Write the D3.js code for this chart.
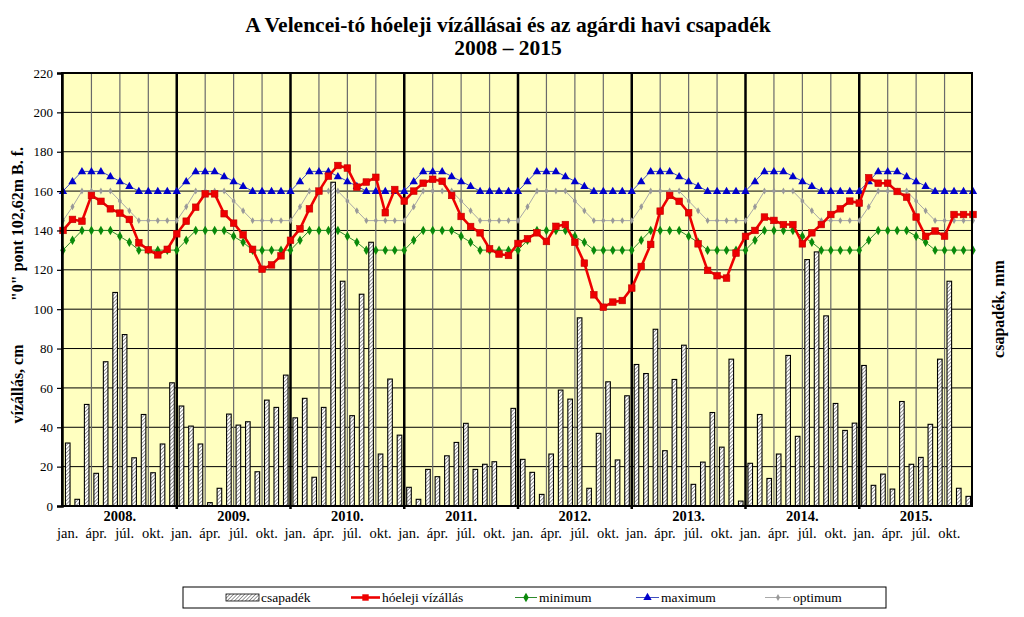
<!DOCTYPE html>
<html><head><meta charset="utf-8">
<script src="https://cdn.jsdelivr.net/npm/d3@7"></script>
<style>body{margin:0;background:#fff}svg{display:block}text{font-family:"Liberation Serif","Times New Roman",serif}</style>
</head><body><svg id="c" width="1024" height="617"></svg>
<script>
const years = ["2008.","2009.","2010.","2011.","2012.","2013.","2014.","2015."];
const monthLabels = ["jan.","ápr.","júl.","okt."];
const yTicks = [0,20,40,60,80,100,120,140,160,180,200,220];
// monthly precipitation, mm (Jan 2008 – Dec 2015)
const csapadek = [
 32,3.4,51.6,16.6,73.3,108.5,87.1,24.5,46.5,16.9,31.5,62.6,
 50.8,40.6,31.5,1.7,9,46.7,41.1,42.8,17.4,53.8,50.1,66.5,
 44.8,54.7,14.6,50.1,164.5,114.2,45.9,107.6,134,26.4,64.5,36,
 9.5,3.4,18.6,14.9,25.5,32.3,42,18.6,21.2,22.5,0,49.6,
 23.7,17.1,5.9,26.4,58.9,54.3,95.6,9,36.9,63.1,23.4,56,
 71.9,67.3,89.8,28.1,64.3,81.7,11,22.3,47.5,29.9,74.6,2.5,
 21.7,46.5,14,26.4,76.5,35.4,125.2,129.1,96.6,52.1,38.4,42.1,
 71.4,10.5,16.2,8.6,53.1,21.2,24.7,41.5,74.6,114.2,9,4.9];
// beginning-of-month water level, cm (Jan 2008 – Jan 2016)
const vizallas = [
 140,145.6,144.7,157.8,154.8,151,148.8,145.6,133.7,130.2,127.6,130.4,
 138.3,144.7,151.8,158.6,158.6,148.5,143.7,137.8,130.4,120.3,122.5,127.1,
 135,140.8,151,160,167.6,173,171.7,162,164.6,167,149,160.8,
 154.9,160,164,166,165,157.8,147.1,142,138.8,130.7,128,127.3,
 133.4,135.8,138.8,134.4,142.1,143,134,123.4,107.3,101,103.6,104.4,
 110.7,121.7,132.9,149.8,157.8,154.8,149,133.2,119.7,117,115.8,128.5,
 137,140,146.8,145.1,143,143,133.2,138.8,143,148.1,151,154.9,
 153.9,166.8,164,164,159.8,156.9,146.8,137,139.7,137.1,148.1,148.1,
 148.1];
const minimum = [
 130,135,140,140,140,140,137,134,130,130,130,130,
 130,135,140,140,140,140,137,134,130,130,130,130,
 130,135,140,140,140,140,137,134,130,130,130,130,
 130,135,140,140,140,140,137,134,130,130,130,130,
 130,135,140,140,140,140,137,134,130,130,130,130,
 130,135,140,140,140,140,137,134,130,130,130,130,
 130,135,140,140,140,140,137,134,130,130,130,130,
 130,135,140,140,140,140,137,134,130,130,130,130,
 130];
const maximum = [
 160,165,170,170,170,167.5,165,162.5,160,160,160,160,
 160,165,170,170,170,167.5,165,162.5,160,160,160,160,
 160,165,170,170,170,167.5,165,162.5,160,160,160,160,
 160,165,170,170,170,167.5,165,162.5,160,160,160,160,
 160,165,170,170,170,167.5,165,162.5,160,160,160,160,
 160,165,170,170,170,167.5,165,162.5,160,160,160,160,
 160,165,170,170,170,167.5,165,162.5,160,160,160,160,
 160,165,170,170,170,167.5,165,162.5,160,160,160,160,
 160];
const optimum = [
 145,152,160,160,160,160,155,150,145,145,145,145,
 145,152,160,160,160,160,155,150,145,145,145,145,
 145,152,160,160,160,160,155,150,145,145,145,145,
 145,152,160,160,160,160,155,150,145,145,145,145,
 145,152,160,160,160,160,155,150,145,145,145,145,
 145,152,160,160,160,160,155,150,145,145,145,145,
 145,152,160,160,160,160,155,150,145,145,145,145,
 145,152,160,160,160,160,155,150,145,145,145,145,
 145];

const svg = d3.select("#c");
const L=62, R=972, T=73, B=506;
const nM = csapadek.length;
const x = d3.scaleLinear().domain([0,nM]).range([L,R]);
const y = d3.scaleLinear().domain([0,220]).range([B,T]);

const defs = svg.append("defs");
const pat = defs.append("pattern").attr("id","hatch").attr("patternUnits","userSpaceOnUse")
  .attr("width",2.6).attr("height",2.6).attr("patternTransform","rotate(45)");
pat.append("rect").attr("width",2.6).attr("height",2.6).attr("fill","#fff");
pat.append("line").attr("x1",0).attr("y1",0).attr("x2",0).attr("y2",2.6).attr("stroke","#555").attr("stroke-width",1.2);

svg.append("rect").attr("width",1024).attr("height",617).attr("fill","#fff");

// title
svg.append("text").attr("x",508).attr("y",32).attr("text-anchor","middle")
  .attr("font-size",21.5).attr("font-weight","bold").text("A Velencei-tó hóeleji vízállásai és az agárdi havi csapadék");
svg.append("text").attr("x",508).attr("y",55).attr("text-anchor","middle")
  .attr("font-size",21.5).attr("font-weight","bold").text("2008 – 2015");

// plot background
svg.append("rect").attr("x",L).attr("y",T).attr("width",R-L).attr("height",B-T).attr("fill","#FFFFC0");

// horizontal grid
svg.append("g").selectAll("line").data(yTicks).join("line")
  .attr("x1",L).attr("x2",R).attr("y1",d=>y(d)).attr("y2",d=>y(d))
  .attr("stroke","#000").attr("stroke-width",1);
// vertical quarter grid
const quarters = d3.range(3,nM,3).filter(i=>i%12!==0);
svg.append("g").selectAll("line").data(quarters).join("line")
  .attr("x1",d=>x(d)+1).attr("x2",d=>x(d)+1).attr("y1",T).attr("y2",B)
  .attr("stroke","#6a6a6a").attr("stroke-width",1.2);
// year separators
const yearIdx = d3.range(12,nM,12);
svg.append("g").selectAll("line").data(yearIdx).join("line")
  .attr("x1",d=>x(d)+1).attr("x2",d=>x(d)+1).attr("y1",T).attr("y2",B+3)
  .attr("stroke","#000").attr("stroke-width",2.5);

// series lines
function series(data, color, width){
  const line = d3.line().x((d,i)=>x(i)+1).y(d=>y(d));
  svg.append("path").datum(data).attr("d",line).attr("fill","none")
    .attr("stroke",color).attr("stroke-width",width).attr("stroke-linejoin","round");
}
series(optimum,"#a8a8a8",1);
series(minimum,"#2e8b2e",1);
series(maximum,"#4050c0",1);
// markers
svg.append("g").selectAll("path").data(optimum).join("path")
  .attr("d",d3.symbol(d3.symbolDiamond,14)())
  .attr("transform",(d,i)=>`translate(${x(i)+1},${y(d)})`).attr("fill","#999");
svg.append("g").selectAll("path").data(minimum).join("path")
  .attr("d",d3.symbol(d3.symbolDiamond,26)())
  .attr("transform",(d,i)=>`translate(${x(i)+1},${y(d)})`).attr("fill","#0a8a0a");
svg.append("g").selectAll("path").data(maximum).join("path")
  .attr("d",d3.symbol(d3.symbolTriangle,30)())
  .attr("transform",(d,i)=>`translate(${x(i)+1},${y(d)+0.5})`).attr("fill","#0000cc");

// bars
svg.append("g").selectAll("rect").data(csapadek).join("rect")
  .attr("x",(d,i)=>x(i+0.5)+1-2.3).attr("width",4.6)
  .attr("y",d=>y(d)).attr("height",d=>B-y(d))
  .attr("fill","url(#hatch)").attr("stroke","#000").attr("stroke-width",1.1)
  .style("display",d=>d>0?null:"none");

// water level
series(vizallas,"#ee0000",2.6);
svg.append("g").selectAll("rect").data(vizallas).join("rect")
  .attr("x",(d,i)=>x(i)+1-3.3).attr("y",d=>y(d)-3.3).attr("width",6.6).attr("height",6.6)
  .attr("fill","#ee0000").attr("stroke","#c00000").attr("stroke-width",0.6);

// frame
svg.append("rect").attr("x",L).attr("y",T).attr("width",R-L).attr("height",B-T)
  .attr("fill","none").attr("stroke","#000").attr("stroke-width",2);

// y axis
const yAxis = d3.axisLeft(y).tickValues(yTicks).tickSize(5).tickPadding(4);
const ga = svg.append("g").attr("transform",`translate(${L},0)`).call(yAxis);
ga.select(".domain").attr("stroke-width",2.5);
ga.selectAll("text").attr("font-size",13).attr("font-family","Liberation Serif").attr("fill","#000");
ga.selectAll(".tick line").attr("stroke","#000").attr("stroke-width",1.2);

// x labels
const monthPos = [];
years.forEach((yr,k)=>[0,3,6,9].forEach((m,j)=>monthPos.push({i:k*12+m,t:monthLabels[j]})));
svg.append("g").selectAll("text").data(monthPos).join("text")
  .attr("x",d=>x(d.i+0.5)+1).attr("y",538).attr("text-anchor","middle")
  .attr("font-size",14.5).text(d=>d.t);
svg.append("g").selectAll("text").data(years).join("text")
  .attr("x",(d,k)=>x(k*12+6)+1).attr("y",521).attr("text-anchor","middle")
  .attr("font-size",14.5).attr("font-weight","bold").text(d=>d);

// axis titles
svg.append("text").attr("transform","translate(23,384) rotate(-90)").attr("text-anchor","middle")
  .attr("font-size",16).attr("font-weight","bold").text("vízállás, cm");
svg.append("text").attr("transform","translate(23,224) rotate(-90)").attr("text-anchor","middle")
  .attr("font-size",16).attr("font-weight","bold").text("\"0\" pont 102,62m B. f.");
svg.append("text").attr("transform","translate(1004,309) rotate(-90)").attr("text-anchor","middle")
  .attr("font-size",16).attr("font-weight","bold").text("csapadék, mm");

// legend
const lg = svg.append("g");
lg.append("rect").attr("x",183).attr("y",587).attr("width",703).attr("height",21)
  .attr("fill","#fff").attr("stroke","#000").attr("stroke-width",1);
lg.append("rect").attr("x",226).attr("y",594).attr("width",33).attr("height",7)
  .attr("fill","url(#hatch)").attr("stroke","#000").attr("stroke-width",0.8);
const legItems = [
  {x1:351,x2:380,color:"#ee0000",w:2.6,sym:"sq",label:"hóeleji vízállás",tx:382},
  {x1:515,x2:537,color:"#2e8b2e",w:1,sym:"dm",label:"minimum",tx:539},
  {x1:636,x2:659,color:"#4050c0",w:1,sym:"tr",label:"maximum",tx:661},
  {x1:765,x2:791,color:"#a8a8a8",w:1,sym:"op",label:"optimum",tx:793}
];
lg.append("text").attr("x",261).attr("y",602).attr("font-size",13.5).text("csapadék");
legItems.forEach(it=>{
  lg.append("line").attr("x1",it.x1).attr("x2",it.x2).attr("y1",597.5).attr("y2",597.5)
    .attr("stroke",it.color).attr("stroke-width",it.w);
  const cx=(it.x1+it.x2)/2;
  if(it.sym==="sq") lg.append("rect").attr("x",cx-3.2).attr("y",594.3).attr("width",6.4).attr("height",6.4).attr("fill","#ee0000");
  if(it.sym==="dm") lg.append("path").attr("d",d3.symbol(d3.symbolDiamond,26)()).attr("transform",`translate(${cx},597.5)`).attr("fill","#0a8a0a");
  if(it.sym==="tr") lg.append("path").attr("d",d3.symbol(d3.symbolTriangle,30)()).attr("transform",`translate(${cx},597.5)`).attr("fill","#0000cc");
  if(it.sym==="op") lg.append("path").attr("d",d3.symbol(d3.symbolDiamond,14)()).attr("transform",`translate(${cx},597.5)`).attr("fill","#999");
  lg.append("text").attr("x",it.tx).attr("y",602).attr("font-size",13.5).text(it.label);
});
</script></body></html>
